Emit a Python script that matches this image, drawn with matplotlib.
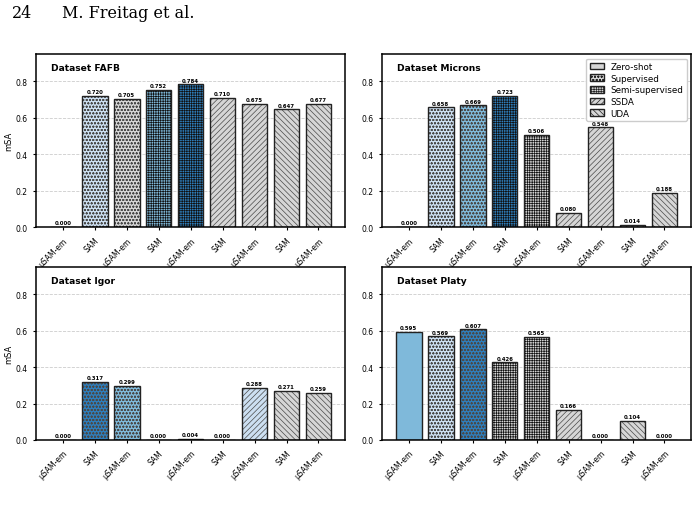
import numpy as np
import matplotlib
matplotlib.use('Agg')
import matplotlib.pyplot as plt
from matplotlib.patches import Patch

modeles = ['µSAM-em', 'SAM', 'µSAM-em', 'SAM', 'µSAM-em', 'SAM', 'µSAM-em', 'SAM', 'µSAM-em']
hachures = ['', 'ooooo', 'ooooo', '+++++++', '+++++++', '//////', '//////',
            '\\\\\\\\\\\\', '\\\\\\\\\\\\']
gris_hachure = ['#4a4a4a', '#4a4a4a', '#4a4a4a', '#111111', '#111111',
                '#4a4a4a', '#4a4a4a', '#4a4a4a', '#4a4a4a']

fafb = [0.000, 0.720, 0.705, 0.752, 0.784, 0.710, 0.675, 0.647, 0.677]
microns = [0.000, 0.658, 0.669, 0.723, 0.506, 0.080, 0.548, 0.014, 0.188]
igor = [0.000, 0.317, 0.299, 0.000, 0.004, 0.000, 0.288, 0.271, 0.259]
platy = [0.595, 0.569, 0.607, 0.426, 0.565, 0.166, 0.000, 0.104, 0.000]

jeux = [('Dataset FAFB', fafb), ('Dataset Microns', microns),
        ('Dataset Igor', igor), ('Dataset Platy', platy)]

legende_noms = ['Zero-shot', 'Supervised', 'Semi-supervised', 'SSDA', 'UDA']
legende_hachures = ['', 'ooooo', '+++++++', '//////', '\\\\\\\\\\\\']

bleus = [plt.cm.Blues(0.7), plt.cm.Blues(0.45), plt.cm.Blues(0.22)]
gris = '#d6d6d6'

plt.rcParams['hatch.linewidth'] = 0.5

fig = plt.figure(figsize=(6.99, 5.06), dpi=100)
fig.text(12 / 699, 1 - 13 / 506, '24', family='DejaVu Serif', fontsize=11.5, va='center')
fig.text(62 / 699, 1 - 13 / 506, 'M. Freitag et al.', family='DejaVu Serif', fontsize=11.5, va='center')

positions = [(0.0515, 0.549), (0.5465, 0.549), (0.0515, 0.1285), (0.5465, 0.1285)]

for k in range(4):
    titre, valeurs = jeux[k]
    ax = fig.add_axes([positions[k][0], positions[k][1], 0.4425, 0.342])
    x = np.arange(len(valeurs))
    ordre = np.argsort(valeurs)[::-1]
    couleurs = [gris] * len(valeurs)
    for r in range(3):
        couleurs[ordre[r]] = bleus[r]
    # remplissage + hachures, puis contour noir par-dessus
    barres = ax.bar(x, valeurs, width=0.8, color=couleurs, linewidth=0)
    for b, h, c in zip(barres, hachures, gris_hachure):
        b.set_hatch(h)
        b.set_edgecolor(c)
    ax.bar(x, valeurs, width=0.8, fill=False, edgecolor='#222222', linewidth=1.0)
    for xi, v in zip(x, valeurs):
        ax.text(xi, v + 0.01, '%.3f' % v, ha='center', va='bottom', fontsize=3.9, fontweight='bold')
    ax.set_ylim(0, 0.95)
    ax.set_yticks([0.0, 0.2, 0.4, 0.6, 0.8])
    ax.set_xticks(x)
    ax.set_xticklabels(modeles, rotation=45, ha='right', rotation_mode='anchor', fontsize=5.5)
    ax.tick_params(axis='y', labelsize=5.5, length=2.5)
    ax.tick_params(axis='x', length=2.5)
    ax.grid(axis='y', linestyle='--', color='#cccccc', linewidth=0.6)
    ax.set_axisbelow(True)
    for s in ax.spines.values():
        s.set_linewidth(1.1)
    ax.text(0.05, 0.92, titre, transform=ax.transAxes, fontsize=6.6, fontweight='bold', va='center')
    if k % 2 == 0:
        ax.set_ylabel('mSA', fontsize=6, labelpad=2)
    if k == 1:
        poignees = [Patch(facecolor=gris, edgecolor='#222222', hatch=h, label=n)
                    for n, h in zip(legende_noms, legende_hachures)]
        ax.legend(handles=poignees, loc='upper right', fontsize=6.3, handlelength=1.6,
                  handleheight=0.8, borderpad=0.4, labelspacing=0.3, framealpha=1.0)

fig.savefig('out.png', dpi=100)
